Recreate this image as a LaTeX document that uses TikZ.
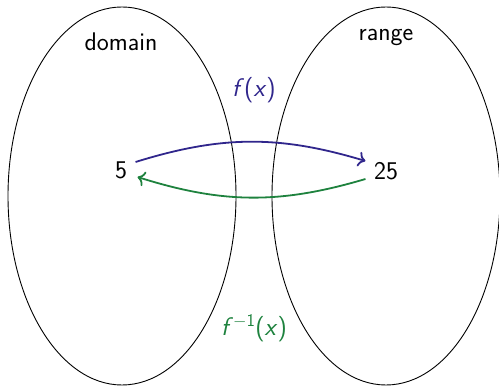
\documentclass[tikz,border=0pt]{standalone}
\usetikzlibrary{calc,shapes.geometric,arrows.meta}
\definecolor{fblue}{RGB}{48,38,140}
\definecolor{fgreen}{RGB}{30,130,62}
\begin{document}
\begin{tikzpicture}[x=1pt,y=1pt,
  setshape/.style={draw=black,line width=0.9pt},
  lbl/.style={font=\fontsize{25.5}{30}\selectfont\sffamily},
  fwd/.style={draw=fblue,line width=1.8pt,-{To[scale=1.3]}},
  bwd/.style={draw=fgreen,line width=1.8pt,-{To[scale=1.3]}}]
\useasboundingbox (0,0) rectangle (499,386);
\node[setshape,ellipse,minimum width=228,minimum height=378,inner sep=0] (dom) at (122,190) {};
\node[setshape,ellipse,minimum width=228,minimum height=378,inner sep=0] (ran) at (386,190) {};
\node[lbl] (domlbl) at (121,344) {domain};
\node[lbl] (ranlbl) at (386,349) {range};
\node[lbl,text=fblue] (flbl) at (254,296) {\textit{f}(\textit{x})};
\node[lbl,text=fgreen] (finvlbl) at (254,58) {\textit{f}\textsuperscript{$-$1}(\textit{x})};
\node[lbl] (n5) at (121,216) {5};
\node[lbl] (n25) at (386,215) {25};
\draw[fwd] ([shift={(5pt,8pt)}]n5.east) to[bend left=17] ([shift={(-5pt,10pt)}]n25.west);
\draw[bwd] ([shift={(-5pt,-8pt)}]n25.west) to[bend left=17] ([shift={(7pt,-7pt)}]n5.east);
\end{tikzpicture}
\end{document}
